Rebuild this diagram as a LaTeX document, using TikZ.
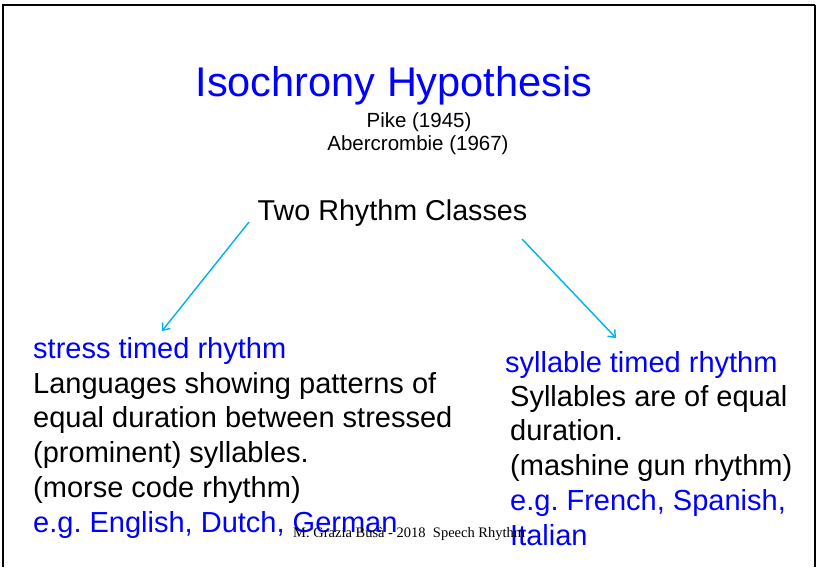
\documentclass[tikz,border=0pt]{standalone}
\usepackage{fontspec}
\setmainfont{Liberation Sans}
\newfontfamily\footfont{Liberation Serif}
\usepackage{xcolor}
\usetikzlibrary{arrows.meta}
\frenchspacing

\definecolor{slideblue}{RGB}{0,0,255}
\definecolor{arrowcyan}{RGB}{0,176,240}

\tikzset{
  line/.style={anchor=base west, inner sep=0pt, font=\fontsize{29}{34}\selectfont},
  bluetext/.style={line, text=slideblue},
  centered/.style={anchor=base, inner sep=0pt},
  classarrow/.style={draw=arrowcyan, line width=1.4pt, -{Straight Barb[length=6pt,width=10pt]}}
}

\begin{document}
\begin{tikzpicture}[x=1pt, y=-1pt]
\useasboundingbox (0,0) rectangle (818,567);

% frame of the slide
\draw[line width=2pt] (3,567) -- (3,5) -- (815,5);
\draw[line width=1.2pt] (815,5) -- (815,567);

% heading
\node[centered, text=slideblue, font=\fontsize{41.5}{48}\selectfont] (title) at (394,96) {Isochrony Hypothesis};
\node[centered, font=\fontsize{20.5}{24}\selectfont] (pike) at (419,128) {Pike (1945)};
\node[centered, font=\fontsize{20.5}{24}\selectfont] (abercrombie) at (418,150) {Abercrombie (1967)};

\node[centered, font=\fontsize{28.7}{34}\selectfont] (classes) at (392.5,220) {Two Rhythm Classes};

\coordinate (lfrom) at (249,222);
\coordinate (lto) at (162,331);
\coordinate (rfrom) at (522,239);
\coordinate (rto) at (616,338);
\draw[classarrow] (lfrom) -- (lto);
\draw[classarrow] (rfrom) -- (rto);

% stress timed
\node[bluetext] (stress) at (33,358) {stress timed rhythm};
\node[line] (s1) at (33,393) {Languages showing patterns of};
\node[line] (s2) at (33,427.5) {equal duration between stressed};
\node[line] (s3) at (33,462) {(prominent) syllables.};
\node[line] (s4) at (33,497) {(morse code rhythm)};
\node[bluetext] (s5) at (33,532) {e.g. English, Dutch, German};

% syllable timed
\node[bluetext] (syllable) at (505,372) {syllable timed rhythm};
\node[line] (y1) at (510,406) {Syllables are of equal};
\node[line] (y2) at (510,440.5) {duration.};
\node[line] (y3) at (510,475) {(mashine gun rhythm)};
\node[bluetext] (y4) at (510,510) {e.g. French, Spanish,};
\node[bluetext] (y5) at (510,545) {Italian};

% footer
\node[anchor=base west, inner sep=0pt, font=\footfont\fontsize{14.5}{17}\selectfont] (footer) at (293,537) {M. Grazia Busà - 2018\ \ Speech Rhythm};
\end{tikzpicture}
\end{document}
